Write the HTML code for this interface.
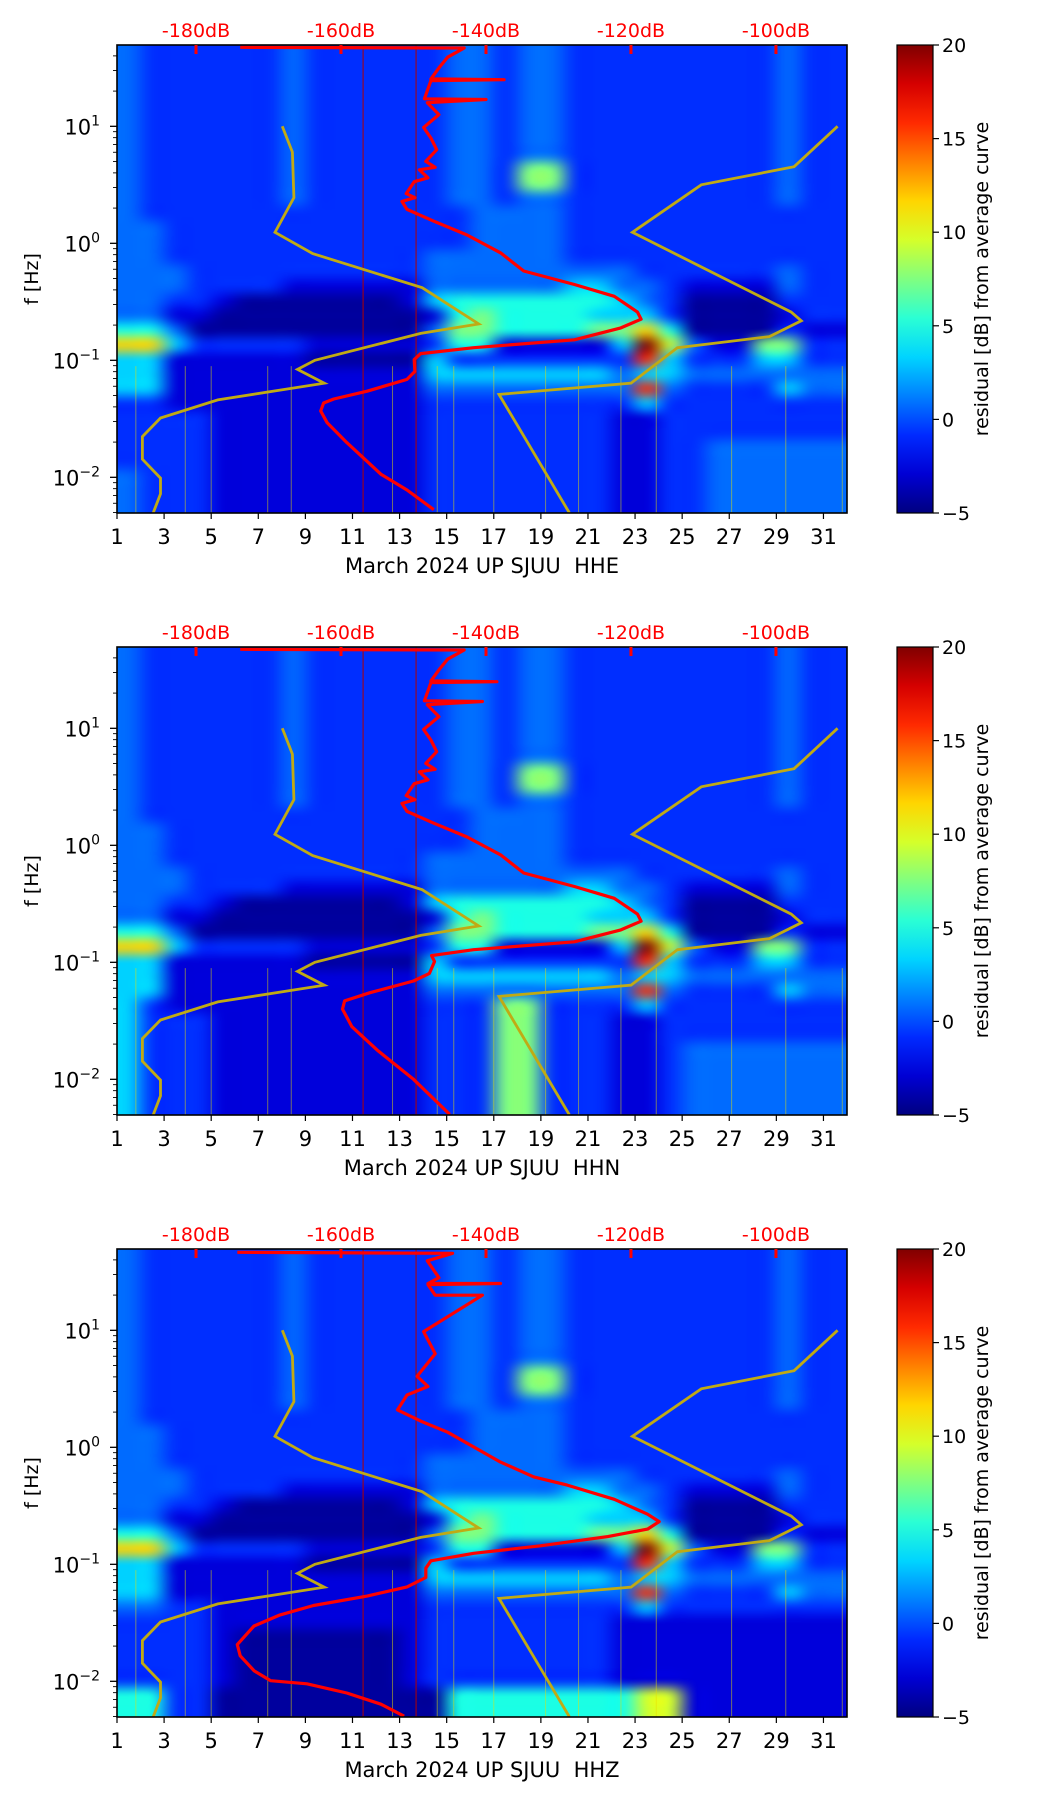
<!DOCTYPE html>
<html><head><meta charset="utf-8"><title>SJUU March 2024 spectrograms</title>
<style>
html,body{margin:0;padding:0;background:#fff;}
#wrap{position:relative;width:1052px;height:1806px;overflow:hidden;}
canvas{position:absolute;left:0;top:0;}
svg{position:absolute;left:0;top:0;}
text{font-family:"DejaVu Sans","Liberation Sans",sans-serif;}
</style></head>
<body>
<div id="wrap">
<canvas id="cv" width="1052" height="1806"></canvas>
<svg id="sv" width="1052" height="1806" xmlns="http://www.w3.org/2000/svg"></svg>
</div>
<script>
// ---------- data ----------
const channels = ["HHE","HHN","HHZ"];
const dayTicks = [1,3,5,7,9,11,13,15,17,19,21,23,25,27,29,31];
const dbTicks = [-180,-160,-140,-120,-100];
const cbTicks = [20,15,10,5,0,-5];
const freqDecades = [1,0,-1,-2];
// colour level (0..c) -> normalized residual position
const levelT = [0.03,0.09,0.17,0.23,0.33,0.40,0.5,0.58,0.667,0.75,0.833,0.917,1.0];
// residual grid: 32 rows (0.125 decade bands, top=high f) x 31 day columns
const gridHHE = [
"3222222322222233233222222222322","3222222322222233233222222222322","3222222322222233233222222222322","3222222322222233233222222222322",
"3222222322222233233222222222322","3222222322222233233222222222322","3222222322222233233222222222322","3222222322222233233222222222322",
"3222222322222233266222222222322","3222222322222233266222222222322","3222222322222233233222222222322","3222222222222223333222222222222",
"3322222222222223333222222222222","3322222222222223333222222222222","3322222222222333333222222222222","3332222222222333333333222222322",
"3332222111111333333443321111322","3322100000001455555554320000222","3311000000000156555544420000122","5530000000000366555566850000211",
"8842222211111255111114c73116622","4411111100000422222222a42224422","4411111111111444444443443333333","4411111111111333333333a32222433",
"2211111111111222222222422222222","2222111111111222222221122222222","2222111111111222222221122222222","2222111111111222222221122333333",
"2222111111111222222221122333333","3222111111111222222221122333333","3222111111111222222221122333333","3222111111111222222221122333333"];
const gridHHN = [
"3222222322222233233222222222322","3222222322222233233222222222322","3222222322222233233222222222322","3222222322222233233222222222322",
"3222222322222233233222222222322","3222222322222233233222222222322","3222222322222233233222222222322","3222222322222233233222222222322",
"3222222322222233266222222222322","3222222322222233266222222222322","3222222322222233233222222222322","3222222222222223333222222222222",
"3322222222222223333222222222222","3322222222222223333222222222222","3322222222222333333222222222222","3332222222222333333333222222322",
"3332222111111333333443321111322","3322100000001455555554320000222","3311000000000156555544420000122","5530000000000366555566850000211",
"8842222211111255111114c73116622","4411111100000422222222a42224422","4411111111111444444443443333333","4411111111111333333333a32222433",
"4211111111111222662222422222222","4222111111111222662221122222222","4222111111111222662221122222222","4222111111111222662221123333333",
"4222111111111222662221123333333","4222111111111222662221123333333","4222111111111222662221123333333","4222111111111222662221123333333"];
const gridHHZ = [
"3222222322222233233222222222322","3222222322222233233222222222322","3222222322222233233222222222322","3222222322222233233222222222322",
"3222222322222233233222222222322","3222222322222233233222222222322","3222222322222233233222222222322","3222222322222233233222222222322",
"3222222322222233266222222222322","3222222322222233266222222222322","3222222322222233233222222222322","3222222222222223333222222222222",
"3322222222222223333222222222222","3322222222222223333222222222222","3322222222222333333222222222222","3332222222222333333333222222322",
"3332222111111333333443321111322","3322100000001455555554320000222","3311000000000156555544420000122","5530000000000366555566850000211",
"8842222211111255111114c73116622","4411111100000422222222a42224422","4411111111111444444443443333333","4411111111111333333333a32222433",
"3322111111111222222222422222222","2222111111111222222221111111111","2222100000001222222221111111111","2222100000001222222221111111111",
"2222100000001222222221111111111","2222100000001222222221111111111","5522000000000055555555771111111","5522000000000055555555771111111"];
const grids = [gridHHE, gridHHN, gridHHZ];
// thin impulse streak days (low-frequency transients)
const streakDays = [1.8,3.9,5.0,7.4,8.4,12.7,14.6,15.3,17.0,19.2,20.6,22.4,23.9,27.1,29.4,31.8];
const redLineDays = [11.45,13.7];
// Peterson low/high noise models (dB, log10 f)
const nlnmDb  = [-168.1,-166.7,-166.5,-169.1,-163.9,-148.8,-141.0,-149.0,-163.6,-166.0,-162.3,-177.0,-184.9,-187.4,-187.4,-184.9,-184.9,-185.9];
const nlnmLog = [1.0,0.78,0.39,0.094,-0.088,-0.379,-0.69,-0.77,-1.0,-1.078,-1.196,-1.338,-1.493,-1.652,-1.845,-2.007,-2.142,-2.304];
const nhnmDb  = [-91.5,-97.5,-110.3,-119.8,-97.9,-96.5,-100.9,-113.6,-120.0,-138.2,-128.5];
const nhnmLog = [1.0,0.655,0.50,0.094,-0.588,-0.662,-0.797,-0.892,-1.196,-1.291,-2.304];
// median PSD curves (dB, log10 f)
const redHHEDb  = [-173.9,-143.0,-145.3,-146.4,-147.6,-137.5,-147.6,-148.5,-140.0,-148.1,-146.5,-148.6,-147.6,-146.8,-148.3,-147.0,-149.2,-148.0,-149.9,-151.0,-149.8,-151.6,-150.9,-147.2,-142.6,-138.0,-134.8,-127.8,-122.3,-119.1,-118.6,-121.4,-127.8,-141.7,-149.0,-149.9,-149.8,-150.9,-156.4,-161.0,-162.4,-162.8,-161.9,-159.2,-154.5,-150.9,-147.2];
const redHHELog = [1.675,1.669,1.591,1.507,1.405,1.398,1.39,1.235,1.229,1.202,1.1,0.99,0.9,0.8,0.7,0.65,0.628,0.56,0.527,0.425,0.39,0.358,0.29,0.189,0.071,-0.081,-0.237,-0.352,-0.453,-0.588,-0.649,-0.723,-0.825,-0.892,-0.943,-0.994,-1.095,-1.163,-1.264,-1.331,-1.365,-1.433,-1.534,-1.703,-1.973,-2.108,-2.277];
const redHHNDb  = [-173.9,-143.0,-145.3,-146.4,-147.6,-138.5,-147.6,-148.5,-140.5,-148.1,-146.5,-148.6,-147.6,-146.8,-148.3,-147.0,-149.2,-148.0,-149.9,-151.0,-149.8,-151.6,-150.9,-147.2,-142.6,-138.0,-134.8,-127.8,-122.3,-119.1,-118.6,-121.4,-127.8,-141.7,-147.5,-147.1,-147.8,-150.0,-156.0,-159.5,-159.8,-158.5,-155.0,-150.0,-145.0];
const redHHNLog = [1.675,1.669,1.591,1.507,1.405,1.398,1.39,1.235,1.229,1.202,1.1,0.99,0.9,0.8,0.7,0.65,0.628,0.56,0.527,0.425,0.39,0.358,0.29,0.189,0.071,-0.081,-0.237,-0.352,-0.453,-0.588,-0.649,-0.723,-0.825,-0.892,-0.943,-0.994,-1.095,-1.16,-1.26,-1.33,-1.40,-1.55,-1.75,-2.0,-2.30];
const redHHZDb  = [-174.3,-144.6,-148.1,-146.5,-148.0,-138.0,-148.0,-147.0,-140.5,-148.6,-147.0,-149.5,-148.0,-150.9,-152.2,-149.0,-145.3,-138.0,-133.4,-128.8,-122.3,-117.7,-116.1,-117.7,-123.2,-132.5,-141.7,-147.6,-148.3,-148.3,-150.9,-156.4,-163.8,-168.4,-172.0,-174.3,-173.9,-172.0,-169.7,-164.7,-159.2,-154.5,-151.3];
const redHHZLog = [1.667,1.658,1.594,1.45,1.40,1.40,1.39,1.30,1.30,0.989,0.8,0.607,0.52,0.447,0.320,0.224,0.129,-0.126,-0.253,-0.323,-0.444,-0.572,-0.635,-0.699,-0.763,-0.842,-0.906,-0.970,-1.033,-1.113,-1.193,-1.272,-1.352,-1.432,-1.527,-1.686,-1.782,-1.909,-1.995,-2.021,-2.100,-2.196,-2.298];
const redDb = [redHHEDb, redHHNDb, redHHZDb];
const redLog = [redHHELog, redHHNLog, redHHZLog];

// ---------- layout ----------
const L = 117, R = 847, H = 468;
const tops = [45, 647, 1249];
const dayMin = 1, dayMax = 32;
const logTop = 1.695, logBot = logTop - 4;
const dbMin = -190.9, dbMax = -90.2;
const cbL = 897, cbR = 933;
const xDay = d => L + (d - dayMin) / (dayMax - dayMin) * (R - L);
const yLog = (top, lg) => top + (logTop - lg) / (logTop - logBot) * H;
const xDb = db => L + (db - dbMin) / (dbMax - dbMin) * (R - L);

function jet(t){
  t = Math.max(0, Math.min(1, t));
  const c = v => Math.round(255 * Math.max(0, Math.min(1, v)));
  return [c(1.5 - Math.abs(4*t - 3)), c(1.5 - Math.abs(4*t - 2)), c(1.5 - Math.abs(4*t - 1))];
}
const valueOf = ch => -5 + 25 * levelT[parseInt(ch, 16)];

const cv = document.getElementById('cv');
const ctx = cv.getContext('2d');
const NS = 'http://www.w3.org/2000/svg';
const svg = document.getElementById('sv');
function el(tag, attrs, parent){
  const e = document.createElementNS(NS, tag);
  for (const k in attrs) e.setAttribute(k, attrs[k]);
  (parent || svg).appendChild(e);
  return e;
}
function polyPts(dbs, logs, top){
  return dbs.map((d, i) => xDb(d).toFixed(1) + ',' + yLog(top, logs[i]).toFixed(1)).join(' ');
}

channels.forEach((ch, p) => {
  const top = tops[p];
  const grid = grids[p];
  const nr = grid.length, nc = grid[0].length;
  const sm = document.createElement('canvas');
  sm.width = nc; sm.height = nr;
  const sctx = sm.getContext('2d');
  const img = sctx.createImageData(nc, nr);
  for (let r = 0; r < nr; r++) for (let c = 0; c < nc; c++) {
    const v = valueOf(grid[r][c]);
    const col = jet((v + 5) / 25);
    const k = (r * nc + c) * 4;
    img.data[k] = col[0]; img.data[k+1] = col[1]; img.data[k+2] = col[2]; img.data[k+3] = 255;
  }
  sctx.putImageData(img, 0, 0);
  // two-step upscale for smoother interpolation
  const mid = document.createElement('canvas');
  mid.width = nc * 4; mid.height = nr * 4;
  const mctx = mid.getContext('2d');
  mctx.imageSmoothingEnabled = true;
  mctx.imageSmoothingQuality = 'high';
  mctx.drawImage(sm, 0, 0, mid.width, mid.height);
  ctx.imageSmoothingEnabled = true;
  ctx.imageSmoothingQuality = 'high';
  ctx.save();
  ctx.beginPath(); ctx.rect(L, top, R - L, H); ctx.clip();
  ctx.drawImage(mid, L, top, xDay(1 + nc) - L, H);
  if (xDay(1 + nc) < R) { ctx.drawImage(mid, mid.width - 2, 0, 2, mid.height, xDay(1 + nc) - 1, top, R - xDay(1 + nc) + 1, H); }
  ctx.restore();

  const g = el('g', {});
  
  

  streakDays.forEach(d => {
    const s = el('line', {x1: xDay(d), x2: xDay(d), y1: yLog(top, -1.05), y2: top + H, stroke: '#e8e000', 'stroke-width': 1, opacity: 0.5}, g);
    
    
  });
  redLineDays.forEach(d => {
    const s = el('line', {x1: xDay(d), x2: xDay(d), y1: top, y2: top + H, stroke: '#b00000', 'stroke-width': 1}, g);
    
    
  });

  const cp = el('clipPath', {id: 'clip' + p}, g);
  el('rect', {x: L, y: top, width: R - L, height: H}, cp);

  const nl = el('polyline', {points: polyPts(nlnmDb, nlnmLog, top), fill: 'none', stroke: '#c0aa14', 'stroke-width': 2.8, 'clip-path': 'url(#clip' + p + ')'}, g);
  
  
  const nh = el('polyline', {points: polyPts(nhnmDb, nhnmLog, top), fill: 'none', stroke: '#c0aa14', 'stroke-width': 2.8, 'clip-path': 'url(#clip' + p + ')'}, g);
  
  
  const rc = el('polyline', {points: polyPts(redDb[p], redLog[p], top), fill: 'none', stroke: '#ff0000', 'stroke-width': 3.2, 'stroke-linejoin': 'round', 'clip-path': 'url(#clip' + p + ')'}, g);
  
  

  const fr = el('rect', {x: L, y: top, width: R - L, height: H, fill: 'none', stroke: '#000', 'stroke-width': 1.6}, g);
  
  

  dayTicks.forEach(d => {
    const x = xDay(d);
    el('line', {x1: x, x2: x, y1: top + H, y2: top + H + 6, stroke: '#000', 'stroke-width': 1.2}, g);
    const t = el('text', {x: x, y: top + H + 31, 'font-size': 21, 'text-anchor': 'middle', fill: '#000'}, g);
    t.textContent = d;
    
    
  });
  const xl = el('text', {x: 482, y: top + H + 60, 'font-size': 21, 'text-anchor': 'middle', fill: '#000'}, g);
  xl.textContent = 'March 2024 UP SJUU\u00a0\u00a0' + ch;
  
  

  for (let k = -3; k <= 1; k++) for (let m = 1; m <= 9; m++) {
    const lg = k + Math.log10(m);
    if (lg < logBot || lg > logTop) continue;
    const y = yLog(top, lg);
    el('line', {x1: L - (m === 1 ? 7 : 4), x2: L, y1: y, y2: y, stroke: '#000', 'stroke-width': m === 1 ? 1.3 : 0.9}, g);
  }
  freqDecades.forEach(k => {
    const y = yLog(top, k);
    const t = el('text', {x: 100, y: y + 8, 'font-size': 21, 'text-anchor': 'end', fill: '#000'}, g);
    
    
    const a = el('tspan', {}, t); a.textContent = '10';
    const b = el('tspan', {dy: -9, 'font-size': 14}, t); b.textContent = k < 0 ? '\u2212' + (-k) : String(k);
  });
  const yl = el('text', {x: 0, y: 0, 'font-size': 19, 'text-anchor': 'middle', fill: '#000', transform: 'translate(38,' + (top + H / 2) + ') rotate(-90)'}, g);
  yl.textContent = 'f [Hz]';
  
  

  dbTicks.forEach(db => {
    const x = xDb(db);
    el('line', {x1: x, x2: x, y1: top, y2: top + 9, stroke: '#ff0000', 'stroke-width': 3}, g);
    const t = el('text', {x: x, y: top - 8, 'font-size': 19, 'text-anchor': 'middle', fill: '#ff0000'}, g);
    t.textContent = db + 'dB';
    
    
  });

  const gid = 'jetg' + p;
  const lg = el('linearGradient', {id: gid, x1: 0, y1: 1, x2: 0, y2: 0}, g);
  for (let i = 0; i <= 12; i++) {
    const c = jet(i / 12);
    el('stop', {offset: (i / 12), 'stop-color': 'rgb(' + c.join(',') + ')'}, lg);
  }
  const cb = el('rect', {x: cbL, y: top, width: cbR - cbL, height: H, fill: 'url(#' + gid + ')', stroke: '#000', 'stroke-width': 1.2}, g);
  
  
  cbTicks.forEach(v => {
    const y = top + (20 - v) / 25 * H;
    el('line', {x1: cbR, x2: cbR + 6, y1: y, y2: y, stroke: '#000', 'stroke-width': 1.2}, g);
    const t = el('text', {x: cbR + 9, y: y + 7, 'font-size': 19, fill: '#000'}, g);
    t.textContent = v < 0 ? '\u2212' + (-v) : String(v);
    
    
  });
  const cl = el('text', {x: 0, y: 0, 'font-size': 19, 'text-anchor': 'middle', fill: '#000', transform: 'translate(988,' + (top + H / 2) + ') rotate(-90)'}, g);
  cl.textContent = 'residual [dB] from average curve';
  
  
});
</script>
</body></html>
